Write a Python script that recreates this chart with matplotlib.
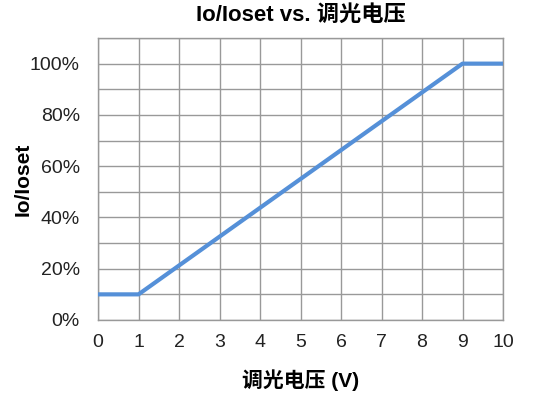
import matplotlib
matplotlib.use("Agg")
import matplotlib.pyplot as plt
from matplotlib.ticker import FuncFormatter, MultipleLocator

plt.rcParams['font.family'] = ['Liberation Sans', 'Noto Sans CJK SC', 'DejaVu Sans']

# data
voltage = [0, 1, 9, 10]          # 调光电压 (V)
ratio = [0.10, 0.10, 1.00, 1.00]  # Io/Ioset
x_ticks = list(range(0, 11))
y_ticks = [0, 0.2, 0.4, 0.6, 0.8, 1.0]

title = "Io/Ioset vs. 调光电压"
xlabel = "调光电压 (V)"
ylabel = "Io/Ioset"

fig = plt.figure(figsize=(5.45, 4.0), dpi=100)
ax = fig.add_axes([98/545, 1 - 320/400, (503-98)/545, (320-38)/400])

ax.plot(voltage, ratio, color='#5590D8', linewidth=3.0, solid_capstyle='butt', zorder=3)

ax.set_xlim(0, 10)
ax.set_ylim(0, 1.1)
ax.set_xticks(x_ticks)
ax.set_yticks(y_ticks)
ax.yaxis.set_minor_locator(MultipleLocator(0.1))
ax.yaxis.set_major_formatter(FuncFormatter(lambda v, p: f"{v*100:.0f}%"))

ax.grid(True, which='both', color='#999999', linewidth=1.0)
ax.set_axisbelow(True)
for s in ax.spines.values():
    s.set_color('#999999')
    s.set_linewidth(1.0)

ax.tick_params(axis='both', which='both', length=0, labelsize=14, colors='#222222')
ax.tick_params(axis='x', pad=10)
ax.tick_params(axis='y', pad=13)

ax.set_title(title, fontsize=16, fontweight='bold', pad=12)
ax.set_xlabel(xlabel, fontsize=15, fontweight='bold', labelpad=13)
ax.set_ylabel(ylabel, fontsize=15, fontweight='bold', labelpad=-2)

fig.savefig("out.png", dpi=100)
